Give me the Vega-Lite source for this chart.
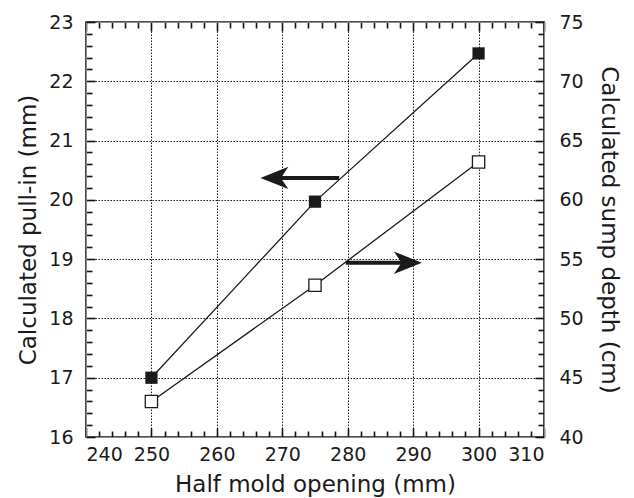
{
  "$schema": "https://vega.github.io/schema/vega-lite/v6.json",
  "width": 458,
  "height": 415,
  "autosize": {"type": "none"},
  "padding": {"left": 86, "top": 22, "right": 90, "bottom": 61},
  "background": "white",
  "config": {
    "font": "DejaVu Sans",
    "view": {"stroke": "#1a1a1a", "strokeWidth": 1.6},
    "axis": {
      "labelFont": "DejaVu Sans",
      "titleFont": "DejaVu Sans",
      "labelFontSize": 19,
      "titleFontSize": 23,
      "titleFontWeight": "normal",
      "labelColor": "#1a1a1a",
      "titleColor": "#1a1a1a",
      "gridColor": "#1a1a1a",
      "gridDash": [1.5, 1.5],
      "gridWidth": 1
    }
  },
  "datasets": {
    "series": [
      {"opening": 250, "pull_in": 17.0, "sump_depth": 43.0},
      {"opening": 275, "pull_in": 19.97, "sump_depth": 52.8},
      {"opening": 300, "pull_in": 22.47, "sump_depth": 63.2}
    ],
    "arrows": [
      {"target": "pull_in", "x_tail": 278.7, "x_head": 268.8, "level": 20.37},
      {"target": "sump_depth", "x_tail": 279.7, "x_head": 289.2, "level": 54.7}
    ]
  },
  "resolve": {"scale": {"y": "independent"}, "axis": {"x": "independent", "y": "independent"}},
  "layer": [
    {
      "data": {"name": "series"},
      "mark": {"type": "line", "color": "#1a1a1a", "strokeWidth": 1.3},
      "encoding": {
        "x": {"field": "opening", "type": "quantitative", "scale": {"domain": [240, 310], "nice": false, "zero": false},
          "axis": {"orient": "bottom", "domain": false, "tickColor": "#111111", "tickWidth": 1.6, "tickSize": -9, "values": [240, 250, 260, 270, 280, 290, 300, 310], "labelPadding": 17, "grid": true, "title": "Half mold opening (mm)", "titlePadding": 9}},
        "y": {"field": "pull_in", "type": "quantitative", "scale": {"domain": [16, 23], "nice": false, "zero": false},
          "axis": {"orient": "left", "domain": false, "tickColor": "#111111", "tickWidth": 1.6, "tickSize": -9, "values": [16, 17, 18, 19, 20, 21, 22, 23], "labelPadding": 22, "grid": true, "title": "Calculated pull-in (mm)", "titlePadding": 8}}
      }
    },
    {
      "data": {"name": "series"},
      "mark": {"type": "point", "shape": "square", "size": 150, "filled": true, "color": "#1a1a1a", "opacity": 1},
      "encoding": {
        "x": {"field": "opening", "type": "quantitative", "scale": {"domain": [240, 310], "nice": false, "zero": false}, "axis": null},
        "y": {"field": "pull_in", "type": "quantitative", "scale": {"domain": [16, 23], "nice": false, "zero": false}, "axis": null}
      }
    },
    {
      "data": {"name": "series"},
      "mark": {"type": "line", "color": "#1a1a1a", "strokeWidth": 1.3},
      "encoding": {
        "x": {"field": "opening", "type": "quantitative", "scale": {"domain": [240, 310], "nice": false, "zero": false},
          "axis": {"orient": "top", "domain": false, "tickColor": "#111111", "tickWidth": 1.6, "tickSize": -9, "values": [240, 250, 260, 270, 280, 290, 300, 310], "labels": false, "grid": false, "title": null}},
        "y": {"field": "sump_depth", "type": "quantitative", "scale": {"domain": [40, 75], "nice": false, "zero": false},
          "axis": {"orient": "right", "domain": false, "tickColor": "#111111", "tickWidth": 1.6, "tickSize": -9, "values": [40, 45, 50, 55, 60, 65, 70, 75], "labelPadding": 24, "grid": false, "title": "Calculated sump depth (cm)", "titlePadding": 13}}
      }
    },
    {
      "data": {"name": "series"},
      "mark": {"type": "point", "shape": "square", "size": 150, "filled": true, "fill": "white", "stroke": "#1a1a1a", "strokeWidth": 1.3, "opacity": 1},
      "encoding": {
        "x": {"field": "opening", "type": "quantitative", "scale": {"domain": [240, 310], "nice": false, "zero": false}, "axis": null},
        "y": {"field": "sump_depth", "type": "quantitative", "scale": {"domain": [40, 75], "nice": false, "zero": false}, "axis": null}
      }
    },
    {
      "data": {"name": "arrows"},
      "transform": [{"filter": "datum.target === 'pull_in'"}],
      "mark": {"type": "rule", "color": "#1a1a1a", "strokeWidth": 4},
      "encoding": {
        "x": {"field": "x_tail", "type": "quantitative", "scale": {"domain": [240, 310], "nice": false, "zero": false}, "axis": null},
        "x2": {"field": "x_head"},
        "y": {"field": "level", "type": "quantitative", "scale": {"domain": [16, 23], "nice": false, "zero": false}, "axis": null}
      }
    },
    {
      "data": {"name": "arrows"},
      "transform": [{"filter": "datum.target === 'pull_in'"}],
      "mark": {"type": "point", "shape": "M-1,0L1,-0.8L0.45,0L1,0.8Z", "size": 784, "filled": true, "color": "#1a1a1a", "opacity": 1},
      "encoding": {
        "x": {"field": "x_head", "type": "quantitative", "scale": {"domain": [240, 310], "nice": false, "zero": false}, "axis": null},
        "y": {"field": "level", "type": "quantitative", "scale": {"domain": [16, 23], "nice": false, "zero": false}, "axis": null}
      }
    },
    {
      "data": {"name": "arrows"},
      "transform": [{"filter": "datum.target === 'sump_depth'"}],
      "mark": {"type": "rule", "color": "#1a1a1a", "strokeWidth": 4},
      "encoding": {
        "x": {"field": "x_tail", "type": "quantitative", "scale": {"domain": [240, 310], "nice": false, "zero": false}, "axis": null},
        "x2": {"field": "x_head"},
        "y": {"field": "level", "type": "quantitative", "scale": {"domain": [40, 75], "nice": false, "zero": false}, "axis": null}
      }
    },
    {
      "data": {"name": "arrows"},
      "transform": [{"filter": "datum.target === 'sump_depth'"}],
      "mark": {"type": "point", "shape": "M1,0L-1,-0.8L-0.45,0L-1,0.8Z", "size": 784, "filled": true, "color": "#1a1a1a", "opacity": 1},
      "encoding": {
        "x": {"field": "x_head", "type": "quantitative", "scale": {"domain": [240, 310], "nice": false, "zero": false}, "axis": null},
        "y": {"field": "level", "type": "quantitative", "scale": {"domain": [40, 75], "nice": false, "zero": false}, "axis": null}
      }
    },
    {
      "data": {"name": "series"},
      "mark": {"type": "point", "opacity": 0},
      "encoding": {
        "x": {"field": "opening", "type": "quantitative", "scale": {"domain": [240, 310], "nice": false, "zero": false},
          "axis": {"orient": "bottom", "tickColor": "#111111", "tickWidth": 1.6, "tickSize": -6, "values": [242, 244, 246, 248, 252, 254, 256, 258, 262, 264, 266, 268, 272, 274, 276, 278, 282, 284, 286, 288, 292, 294, 296, 298, 302, 304, 306, 308], "labels": false, "grid": false, "title": null}},
        "y": {"field": "pull_in", "type": "quantitative", "scale": {"domain": [16, 23], "nice": false, "zero": false},
          "axis": {"orient": "left", "tickColor": "#111111", "tickWidth": 1.6, "tickSize": -6, "values": [16.2, 16.4, 16.6, 16.8, 17.2, 17.4, 17.6, 17.8, 18.2, 18.4, 18.6, 18.8, 19.2, 19.4, 19.6, 19.8, 20.2, 20.4, 20.6, 20.8, 21.2, 21.4, 21.6, 21.8, 22.2, 22.4, 22.6, 22.8], "labels": false, "grid": false, "title": null}}
      }
    },
    {
      "data": {"name": "series"},
      "mark": {"type": "point", "opacity": 0},
      "encoding": {
        "x": {"field": "opening", "type": "quantitative", "scale": {"domain": [240, 310], "nice": false, "zero": false},
          "axis": {"orient": "top", "tickColor": "#111111", "tickWidth": 1.6, "tickSize": -6, "values": [242, 244, 246, 248, 252, 254, 256, 258, 262, 264, 266, 268, 272, 274, 276, 278, 282, 284, 286, 288, 292, 294, 296, 298, 302, 304, 306, 308], "labels": false, "grid": false, "title": null}},
        "y": {"field": "sump_depth", "type": "quantitative", "scale": {"domain": [40, 75], "nice": false, "zero": false},
          "axis": {"orient": "right", "tickColor": "#111111", "tickWidth": 1.6, "tickSize": -6, "values": [41, 42, 43, 44, 46, 47, 48, 49, 51, 52, 53, 54, 56, 57, 58, 59, 61, 62, 63, 64, 66, 67, 68, 69, 71, 72, 73, 74], "labels": false, "grid": false, "title": null}}
      }
    }
  ]
}
